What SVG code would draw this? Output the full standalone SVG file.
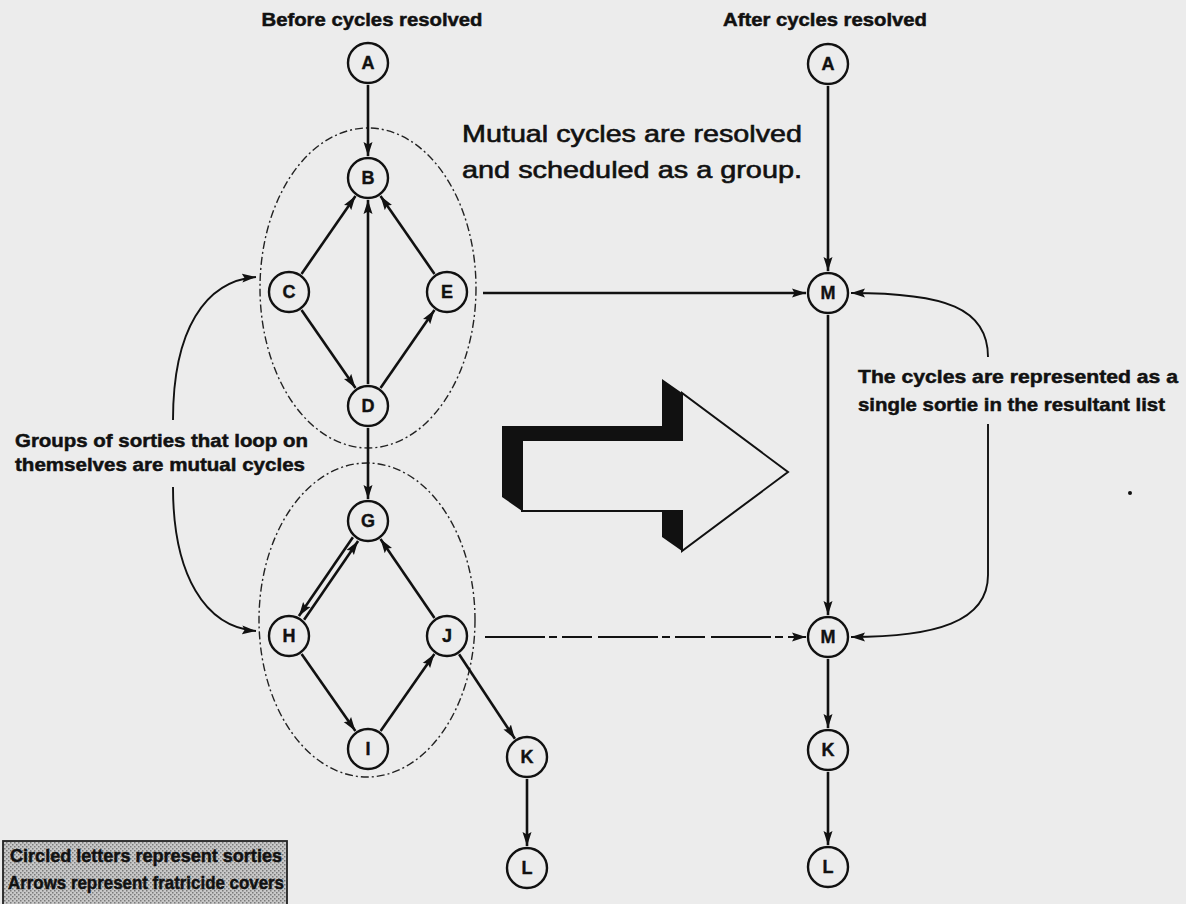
<svg xmlns="http://www.w3.org/2000/svg" width="1186" height="904" viewBox="0 0 1186 904">
<style>
.bg{fill:#ececec}
.node circle{fill:#ececec;stroke:#111;stroke-width:2.4}
.node text{font-family:"Liberation Sans",Arial,sans-serif;font-weight:bold;font-size:18px;fill:#111;stroke:#111;stroke-width:0.4;text-anchor:middle}
.lbl{font-family:"Liberation Sans",Arial,sans-serif;font-weight:bold;font-size:19px;fill:#111;stroke:#111;stroke-width:0.5}
.big{font-family:"Liberation Sans",Arial,sans-serif;font-size:24px;fill:#111;stroke:#111;stroke-width:0.6}
.edge{fill:none;stroke:#111;stroke-width:2.6;marker-end:url(#ah)}
.thin{fill:none;stroke:#111;stroke-width:1.9;marker-end:url(#ah)}
.grp{fill:none;stroke:#222;stroke-width:1.4;stroke-dasharray:8 3 2 3}
</style>
<defs>
<marker id="ah" markerWidth="14" markerHeight="10" refX="14" refY="5" orient="auto" markerUnits="userSpaceOnUse">
<path d="M0,0.5 L14,5 L0,9.5 L2.5,5 z" fill="#111"/>
</marker>
<pattern id="dots" width="4" height="4" patternUnits="userSpaceOnUse">
<rect width="4" height="4" fill="#c8c8c8"/>
<rect x="0" y="0" width="1.5" height="1.5" fill="#7a7a7a"/>
<rect x="2" y="2" width="1.5" height="1.5" fill="#7a7a7a"/>
</pattern>
</defs>
<rect class="bg" x="0" y="0" width="1186" height="904"/>

<g id="titles">
<text class="lbl" x="372" y="26" text-anchor="middle" textLength="221" lengthAdjust="spacingAndGlyphs">Before cycles resolved</text>
<text class="lbl" x="825" y="26" text-anchor="middle" textLength="204" lengthAdjust="spacingAndGlyphs">After cycles resolved</text>
<text class="big" x="462" y="142" textLength="340" lengthAdjust="spacingAndGlyphs">Mutual cycles are resolved</text>
<text class="big" x="462" y="178" textLength="340" lengthAdjust="spacingAndGlyphs">and scheduled as a group.</text>
<text class="lbl" x="858" y="383" textLength="320" lengthAdjust="spacingAndGlyphs">The cycles are represented as a</text>
<text class="lbl" x="858" y="411" textLength="307" lengthAdjust="spacingAndGlyphs">single sortie in the resultant list</text>
<text class="lbl" x="15" y="447" textLength="293" lengthAdjust="spacingAndGlyphs">Groups of sorties that loop on</text>
<text class="lbl" x="15" y="471" textLength="290" lengthAdjust="spacingAndGlyphs">themselves are mutual cycles</text>
</g>

<g id="groups">
<ellipse class="grp" cx="368" cy="288" rx="108" ry="160"/>
<ellipse class="grp" cx="367" cy="620" rx="108" ry="157"/>
</g>

<g id="big-arrow">
<polygon points="502,426 662,426 662,379 682,393 682,440 522,440 522,511 502,497" fill="#111"/>
<polygon points="662,497 682,511 682,551 662,537" fill="#111"/>
<polygon points="522,440 682,440 682,393 788,472 682,551 682,511 522,511" fill="#ececec" stroke="#111" stroke-width="2"/>
</g>

<g id="connectors">
<line class="edge" x1="368" y1="85" x2="368" y2="156"/>
<line class="edge" x1="301.5" y1="273.9" x2="355.5" y2="196.1"/>
<line class="edge" x1="434.5" y1="273.9" x2="380.5" y2="196.1"/>
<line class="edge" x1="368" y1="384" x2="368" y2="200"/>
<line class="edge" x1="301.5" y1="310.1" x2="355.5" y2="387.9"/>
<line class="edge" x1="380.5" y1="387.9" x2="434.5" y2="310.1"/>
<line class="edge" x1="368" y1="428" x2="368" y2="499"/>
<line class="edge" x1="352.9" y1="537.3" x2="298.9" y2="616.1"/>
<line class="edge" x1="304.1" y1="619.7" x2="358.1" y2="540.9"/>
<line class="edge" x1="434.5" y1="617.9" x2="380.5" y2="539.1"/>
<line class="edge" x1="301.6" y1="654" x2="355.4" y2="731"/>
<line class="edge" x1="380.6" y1="731" x2="434.4" y2="654"/>
<line class="edge" x1="459.1" y1="654.3" x2="514.9" y2="738.7"/>
<line class="edge" x1="527" y1="779" x2="527" y2="846"/>
<line class="edge" x1="483" y1="293" x2="806" y2="293"/>
<line class="thin" x1="485" y1="637" x2="806" y2="637" stroke-dasharray="60 4 8 5 30 6"/>
<line class="edge" x1="828" y1="86" x2="828" y2="271"/>
<line class="edge" x1="828" y1="315" x2="828" y2="615"/>
<line class="edge" x1="828" y1="659" x2="828" y2="728"/>
<line class="edge" x1="828" y1="772" x2="828" y2="845"/>
<path class="thin" d="M988,357 C988,308 945,293 851,293"/>
<path class="thin" d="M988,424 L988,575 C988,622 935,637 851,637"/>
<path class="thin" d="M173,420 C173,330 205,281 256,277"/>
<path class="thin" d="M173,487 C173,575 205,627 256,631"/>
</g>

<g id="node-A1" class="node"><circle cx="368" cy="63" r="20"/><text x="368" y="69">A</text></g>
<g id="node-B" class="node"><circle cx="368" cy="178" r="20"/><text x="368" y="184">B</text></g>
<g id="node-C" class="node"><circle cx="289" cy="292" r="20"/><text x="289" y="298">C</text></g>
<g id="node-E" class="node"><circle cx="447" cy="292" r="20"/><text x="447" y="298">E</text></g>
<g id="node-D" class="node"><circle cx="368" cy="406" r="20"/><text x="368" y="412">D</text></g>
<g id="node-G" class="node"><circle cx="368" cy="521" r="20"/><text x="368" y="527">G</text></g>
<g id="node-H" class="node"><circle cx="289" cy="636" r="20"/><text x="289" y="642">H</text></g>
<g id="node-J" class="node"><circle cx="447" cy="636" r="20"/><text x="447" y="642">J</text></g>
<g id="node-I" class="node"><circle cx="368" cy="749" r="20"/><text x="368" y="755">I</text></g>
<g id="node-K1" class="node"><circle cx="527" cy="757" r="20"/><text x="527" y="763">K</text></g>
<g id="node-L1" class="node"><circle cx="527" cy="868" r="20"/><text x="527" y="874">L</text></g>
<g id="node-A2" class="node"><circle cx="828" cy="64" r="20"/><text x="828" y="70">A</text></g>
<g id="node-M1" class="node"><circle cx="828" cy="293" r="20"/><text x="828" y="299">M</text></g>
<g id="node-M2" class="node"><circle cx="828" cy="637" r="20"/><text x="828" y="643">M</text></g>
<g id="node-K2" class="node"><circle cx="828" cy="750" r="20"/><text x="828" y="756">K</text></g>
<g id="node-L2" class="node"><circle cx="828" cy="867" r="20"/><text x="828" y="873">L</text></g>

<circle cx="1130" cy="493" r="2" fill="#111"/>

<g id="legend">
<rect x="3" y="841" width="284" height="70" fill="url(#dots)" stroke="#222" stroke-width="1.8"/>
<text class="lbl" x="10" y="862" font-size="18" textLength="272" lengthAdjust="spacingAndGlyphs">Circled letters represent sorties</text>
<text class="lbl" x="8" y="889" font-size="18" textLength="276" lengthAdjust="spacingAndGlyphs">Arrows represent fratricide covers</text>
</g>
</svg>
